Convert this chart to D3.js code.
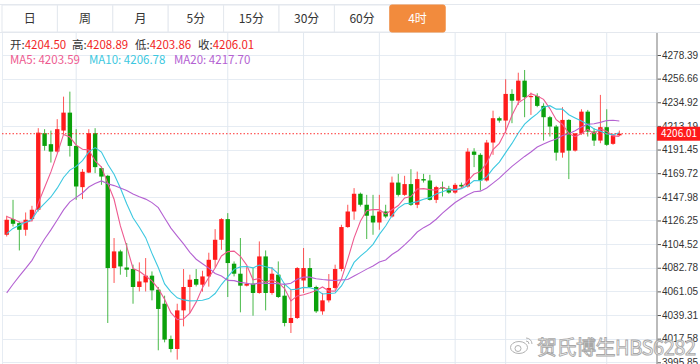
<!DOCTYPE html>
<html>
<meta charset="utf-8">
<title>4时 K线</title>
<style>
    body {
        margin: 0;
        background: #fff;
    }

    svg {
        display: block;
        font-family: "Noto Sans CJK SC", "Noto Sans", sans-serif;
    }

    .axis text {
        font-size: 10px;
        fill: #333;
    }

    .axis line {
        stroke: #555;
    }
</style>
<script src="https://d3js.org/d3.v7.min.js" charset="utf-8"></script>

<body>
<script>
    // tab bar
    const tabs = ["日", "周", "月", "5分", "15分", "30分", "60分", "4时"]
    const activeTab = 7

    // right axis labels
    const tickValues = [4278.39, 4256.66, 4234.92, 4213.19, 4191.45, 4169.72, 4147.98,
        4126.25, 4104.52, 4082.78, 4061.05, 4039.31, 4017.58, 3995.85]

    // closes before the first visible candle (only feed the moving averages)
    const priorCloses = [3963.5, 3970.2, 3982.4, 3989.1, 4001.7, 4008.3, 4021.0, 4027.6, 4040.2, 4047.5,
        4074.9, 4089.6, 4097.8, 4110.2, 4118.9, 4135.0, 4131.6, 4129.3, 4127.2]

    // 4h candles, oldest first
    const open = [4113.1, 4127.5, 4123.8, 4117.7, 4127.5, 4136.1, 4206.5, 4196.4, 4189.6, 4208.9,
        4225.4, 4194.8, 4156.9, 4170.3, 4206.5, 4174.4, 4167.3, 4082.5, 4097.8, 4083.0,
        4081.6, 4065.1, 4069.3, 4075.5, 4062.6, 4049.7, 4017.3, 4008.1, 4043.6, 4065.1,
        4072.4, 4067.2, 4074.8, 4090.1, 4108.5, 4127.5, 4086.5, 4077.3, 4066.3, 4068.1,
        4059.6, 4093.2, 4059.6, 4076.4, 4057.1, 4032.0, 4036.6, 4071.1, 4082.5, 4065.1,
        4042.7, 4052.8, 4064.2, 4081.6, 4120.2, 4134.5, 4150.8, 4140.7, 4130.6, 4124.4,
        4134.5, 4129.9, 4161.1, 4149.8, 4159.7, 4140.7, 4164.3, 4163.0, 4145.2, 4156.9,
        4155.6, 4151.9, 4159.0, 4157.5, 4189.6, 4186.6, 4163.0, 4197.9, 4220.3, 4218.1,
        4242.6, 4236.4, 4254.8, 4239.6, 4240.7, 4231.6, 4221.2, 4212.6, 4188.6, 4218.7,
        4190.5, 4206.35, 4226.3, 4208.0, 4199.7, 4212.0, 4196.7, 4204.50]
    const high = [4130.6, 4145.2, 4125.3, 4133.6, 4139.7, 4211.1, 4210.2, 4208.9, 4219.4, 4240.1,
        4244.7, 4210.2, 4173.5, 4210.2, 4211.1, 4175.8, 4168.2, 4110.1, 4099.3, 4105.5,
        4085.6, 4087.7, 4091.7, 4079.4, 4065.1, 4057.1, 4020.4, 4049.7, 4081.6, 4076.4,
        4081.6, 4080.0, 4096.6, 4118.3, 4128.4, 4133.0, 4088.6, 4110.1, 4083.4, 4082.5,
        4107.0, 4098.7, 4083.4, 4088.6, 4068.8, 4062.6, 4083.4, 4100.9, 4091.7, 4066.3,
        4059.6, 4077.0, 4085.6, 4122.3, 4140.7, 4156.0, 4151.9, 4149.8, 4149.8, 4149.8,
        4140.7, 4166.6, 4169.1, 4167.3, 4173.4, 4171.2, 4169.1, 4168.2, 4158.1, 4162.0,
        4158.1, 4160.6, 4161.1, 4192.7, 4192.7, 4188.1, 4200.3, 4227.2, 4221.7, 4256.1,
        4246.9, 4262.1, 4264.6, 4243.8, 4243.2, 4234.0, 4222.4, 4214.1, 4230.4, 4219.4,
        4206.5, 4228.5, 4227.9, 4211.1, 4241.7, 4228.5, 4205.9, 4208.89]
    const low = [4111.5, 4120.7, 4098.7, 4112.2, 4125.3, 4134.5, 4190.5, 4179.5, 4188.5, 4204.9,
        4185.0, 4145.2, 4145.9, 4169.8, 4169.8, 4159.0, 4032.0, 4068.8, 4076.4, 4074.3,
        4049.7, 4061.0, 4061.0, 4052.8, 4006.9, 4014.2, 4005.0, 3998.3, 4028.9, 4041.2,
        4065.6, 4060.8, 4065.4, 4082.8, 4099.3, 4055.9, 4074.8, 4041.8, 4065.6, 4038.7,
        4058.9, 4043.6, 4058.0, 4055.0, 4028.9, 4022.8, 4035.7, 4059.6, 4064.2, 4041.2,
        4039.6, 4050.9, 4062.6, 4079.5, 4119.5, 4126.9, 4139.1, 4109.2, 4113.1, 4117.7,
        4128.4, 4128.9, 4148.3, 4148.9, 4139.7, 4137.6, 4161.1, 4144.6, 4142.2, 4148.3,
        4150.8, 4150.8, 4156.0, 4156.5, 4175.3, 4153.8, 4162.0, 4186.6, 4216.2, 4206.5,
        4215.7, 4232.5, 4221.2, 4223.3, 4230.4, 4199.7, 4203.4, 4181.3, 4184.0, 4164.3,
        4189.6, 4205.0, 4203.4, 4194.8, 4197.3, 4194.8, 4195.8, 4203.86]
    const close = [4126.9, 4123.2, 4117.7, 4126.9, 4136.1, 4207.0, 4194.8, 4189.6, 4210.2, 4225.4,
        4194.8, 4157.5, 4171.0, 4206.5, 4175.3, 4166.6, 4082.5, 4097.8, 4084.0, 4081.0,
        4065.1, 4070.2, 4075.5, 4062.0, 4044.9, 4016.7, 4008.1, 4043.6, 4065.1, 4071.8,
        4067.2, 4074.8, 4090.1, 4108.5, 4127.5, 4087.1, 4077.3, 4066.3, 4068.1, 4059.6,
        4093.2, 4059.6, 4077.3, 4055.9, 4032.0, 4036.6, 4082.5, 4082.5, 4065.1, 4042.7,
        4052.8, 4064.2, 4081.6, 4120.2, 4134.5, 4150.8, 4140.7, 4130.6, 4124.4, 4134.5,
        4129.9, 4161.1, 4149.8, 4159.7, 4140.7, 4164.3, 4163.0, 4145.2, 4156.9, 4155.6,
        4151.9, 4159.0, 4157.5, 4189.6, 4186.6, 4163.0, 4197.9, 4220.3, 4218.1, 4242.6,
        4236.4, 4254.8, 4239.6, 4240.7, 4231.6, 4221.2, 4212.6, 4188.6, 4218.7, 4190.5,
        4206.35, 4226.3, 4208.0, 4199.7, 4212.0, 4195.8, 4204.45, 4206.01]

    // candles that carry a vertical (date) grid line
    const dayLines = [11, 35, 47, 59, 71, 79, 95]

    const maPeriods = [5, 10, 20]
    const maColors = ["#ee5a90", "#3cc8e0", "#b462d2"]

    const W = 700, H = 364
    const plotLeft = 2, plotRight = 657, plotTop = 32

    const svg = d3.select("body").append("svg")
        .attr("width", W).attr("height", H)

    const n = close.length
    const x = d3.scaleLinear().domain([0, n - 1]).range([6.7, 6.7 + (n - 1) * 6.316])
    const y = d3.scaleLinear().domain([3995.85, 4278.39]).range([362.3, 55])
    const bodyW = 4.4

    // grid
    const grid = svg.append("g").attr("class", "grid")
    grid.selectAll("line.h").data(tickValues).enter().append("line")
        .attr("class", "h")
        .attr("x1", plotLeft).attr("x2", plotRight)
        .attr("y1", d => Math.round(y(d)) + 0.5).attr("y2", d => Math.round(y(d)) + 0.5)
        .attr("stroke", "#e6ecf3")
    grid.selectAll("line.v").data(dayLines).enter().append("line")
        .attr("class", "v")
        .attr("x1", d => x(d)).attr("x2", d => x(d))
        .attr("y1", plotTop).attr("y2", H)
        .attr("stroke", "#e1e8f0")
    grid.append("line")
        .attr("x1", plotLeft + 0.5).attr("x2", plotLeft + 0.5)
        .attr("y1", plotTop).attr("y2", H)
        .attr("stroke", "#e6ecf3")

    // tab bar
    const tabW = 55.4
    svg.append("line")
        .attr("x1", 0).attr("x2", W).attr("y1", 4.5).attr("y2", 4.5)
        .attr("stroke", "#e4e8ee")
    svg.append("line")
        .attr("x1", 0).attr("x2", W).attr("y1", 32.5).attr("y2", 32.5)
        .attr("stroke", "#e4e8ee")
    const tab = svg.append("g").selectAll("g").data(tabs).enter().append("g")
        .attr("transform", (d, i) => `translate(${plotLeft + i * tabW},5)`)
    tab.append("rect")
        .attr("width", tabW).attr("height", 27)
        .attr("rx", (d, i) => i === activeTab ? 2 : 0)
        .attr("fill", (d, i) => i === activeTab ? "#f28b3d" : "#fff")
        .attr("stroke", (d, i) => i === activeTab ? "#f28b3d" : "#e4e8ee")
    tab.append("text")
        .attr("x", tabW / 2).attr("y", 18)
        .attr("text-anchor", "middle")
        .style("font-size", "12px")
        .attr("fill", (d, i) => i === activeTab ? "#fff" : "#333")
        .text(d => d)

    // moving averages
    const allCloses = priorCloses.concat(close)
    const off = priorCloses.length
    const maSeries = maPeriods.map(p => close.map((c, i) =>
        d3.mean(allCloses.slice(i + off - p + 1, i + off + 1))))

    const chart = svg.append("g")
    chart.append("defs").append("clipPath").attr("id", "plotclip")
        .append("rect")
        .attr("x", plotLeft).attr("y", plotTop + 1)
        .attr("width", plotRight - plotLeft).attr("height", H - plotTop)
    const inner = chart.append("g").attr("clip-path", "url(#plotclip)")

    // candles
    const up = "#ff1c1c", down = "#0ba10b"
    const candles = inner.selectAll("g.candle").data(close).enter().append("g")
        .attr("class", "candle")
    candles.append("line")
        .attr("x1", (d, i) => x(i)).attr("x2", (d, i) => x(i))
        .attr("y1", (d, i) => y(high[i])).attr("y2", (d, i) => y(low[i]))
        .attr("stroke", (d, i) => d > open[i] ? up : down)
        .attr("stroke-opacity", 0.75)
    candles.append("rect")
        .attr("x", (d, i) => x(i) - bodyW / 2)
        .attr("width", bodyW)
        .attr("y", (d, i) => y(Math.max(d, open[i])))
        .attr("height", (d, i) => Math.max(1, Math.abs(y(d) - y(open[i]))))
        .attr("fill", (d, i) => d > open[i] ? up : down)

    const line = d3.line()
        .x((d, i) => x(i))
        .y(d => y(d))
    inner.selectAll("path.ma").data(maSeries).enter().append("path")
        .attr("class", "ma")
        .attr("d", line)
        .attr("fill", "none")
        .attr("stroke", (d, i) => maColors[i])
        .attr("stroke-width", 1.1)

    // last price line
    const last = close[n - 1]
    inner.append("line")
        .attr("x1", plotLeft).attr("x2", plotRight)
        .attr("y1", y(last)).attr("y2", y(last))
        .attr("stroke", "#ff3030")
        .attr("stroke-dasharray", "1.5,2")

    // right axis
    svg.append("g")
        .attr("class", "axis")
        .attr("transform", `translate(${plotRight},0)`)
        .call(d3.axisRight(y).tickValues(tickValues).tickSize(4).tickSizeOuter(0).tickPadding(1)
            .tickFormat(d3.format(".2f")))
        .call(g => g.select(".domain").remove())
    svg.append("line")
        .attr("x1", plotRight).attr("x2", plotRight)
        .attr("y1", plotTop + 1).attr("y2", H)
        .attr("stroke", "#aaa").attr("stroke-width", 1.6)

    svg.append("rect")
        .attr("x", plotRight).attr("y", y(last) - 7)
        .attr("width", W - plotRight).attr("height", 14)
        .attr("fill", "#ff1a1a")
    svg.append("text")
        .attr("x", plotRight + 4).attr("y", y(last) + 3.6)
        .attr("fill", "#fff").style("font-size", "10px")
        .text(d3.format(".2f")(last))

    // legend
    const ohlc = [["开:", open[n - 1], 10], ["高:", high[n - 1], 72], ["低:", low[n - 1], 135], ["收:", last, 198]]
    const leg1 = svg.append("g").style("font-size", "11.5px")
    ohlc.forEach(([lab, v, lx]) => {
        const t = leg1.append("text").attr("x", lx).attr("y", 49)
        t.append("tspan").attr("fill", "#333").text(lab)
        t.append("tspan").attr("fill", "#f21f1f").text(d3.format(".2f")(v))
    })
    const maX = [10, 89, 174]
    svg.append("g").style("font-size", "11.5px")
        .selectAll("text").data(maPeriods).enter().append("text")
        .attr("x", (d, i) => maX[i]).attr("y", 64)
        .attr("fill", (d, i) => maColors[i])
        .text((d, i) => `MA${d}: ${d3.format(".2f")(maSeries[i][n - 1])}`)

    // watermark (weibo mark + name)
    const wm = svg.append("g")
        .attr("fill", "#fff").attr("stroke", "#a8a8a8").attr("stroke-width", 0.9)
    wm.append("ellipse")
        .attr("cx", 519).attr("cy", 347.5).attr("rx", 8.5).attr("ry", 6)
    wm.append("circle")
        .attr("cx", 518).attr("cy", 348.5).attr("r", 3)
    wm.append("path")
        .attr("fill", "none")
        .attr("d", "M526,338 A6,6 0 0 1 532,344 M526,341 A3,3 0 0 1 529,344")
    wm.append("text")
        .attr("x", 537).attr("y", 355)
        .attr("textLength", 159).attr("lengthAdjust", "spacing")
        .style("font-size", "20px")
        .text("贺氏博生HBS6282")
</script>
</body>

</html>
